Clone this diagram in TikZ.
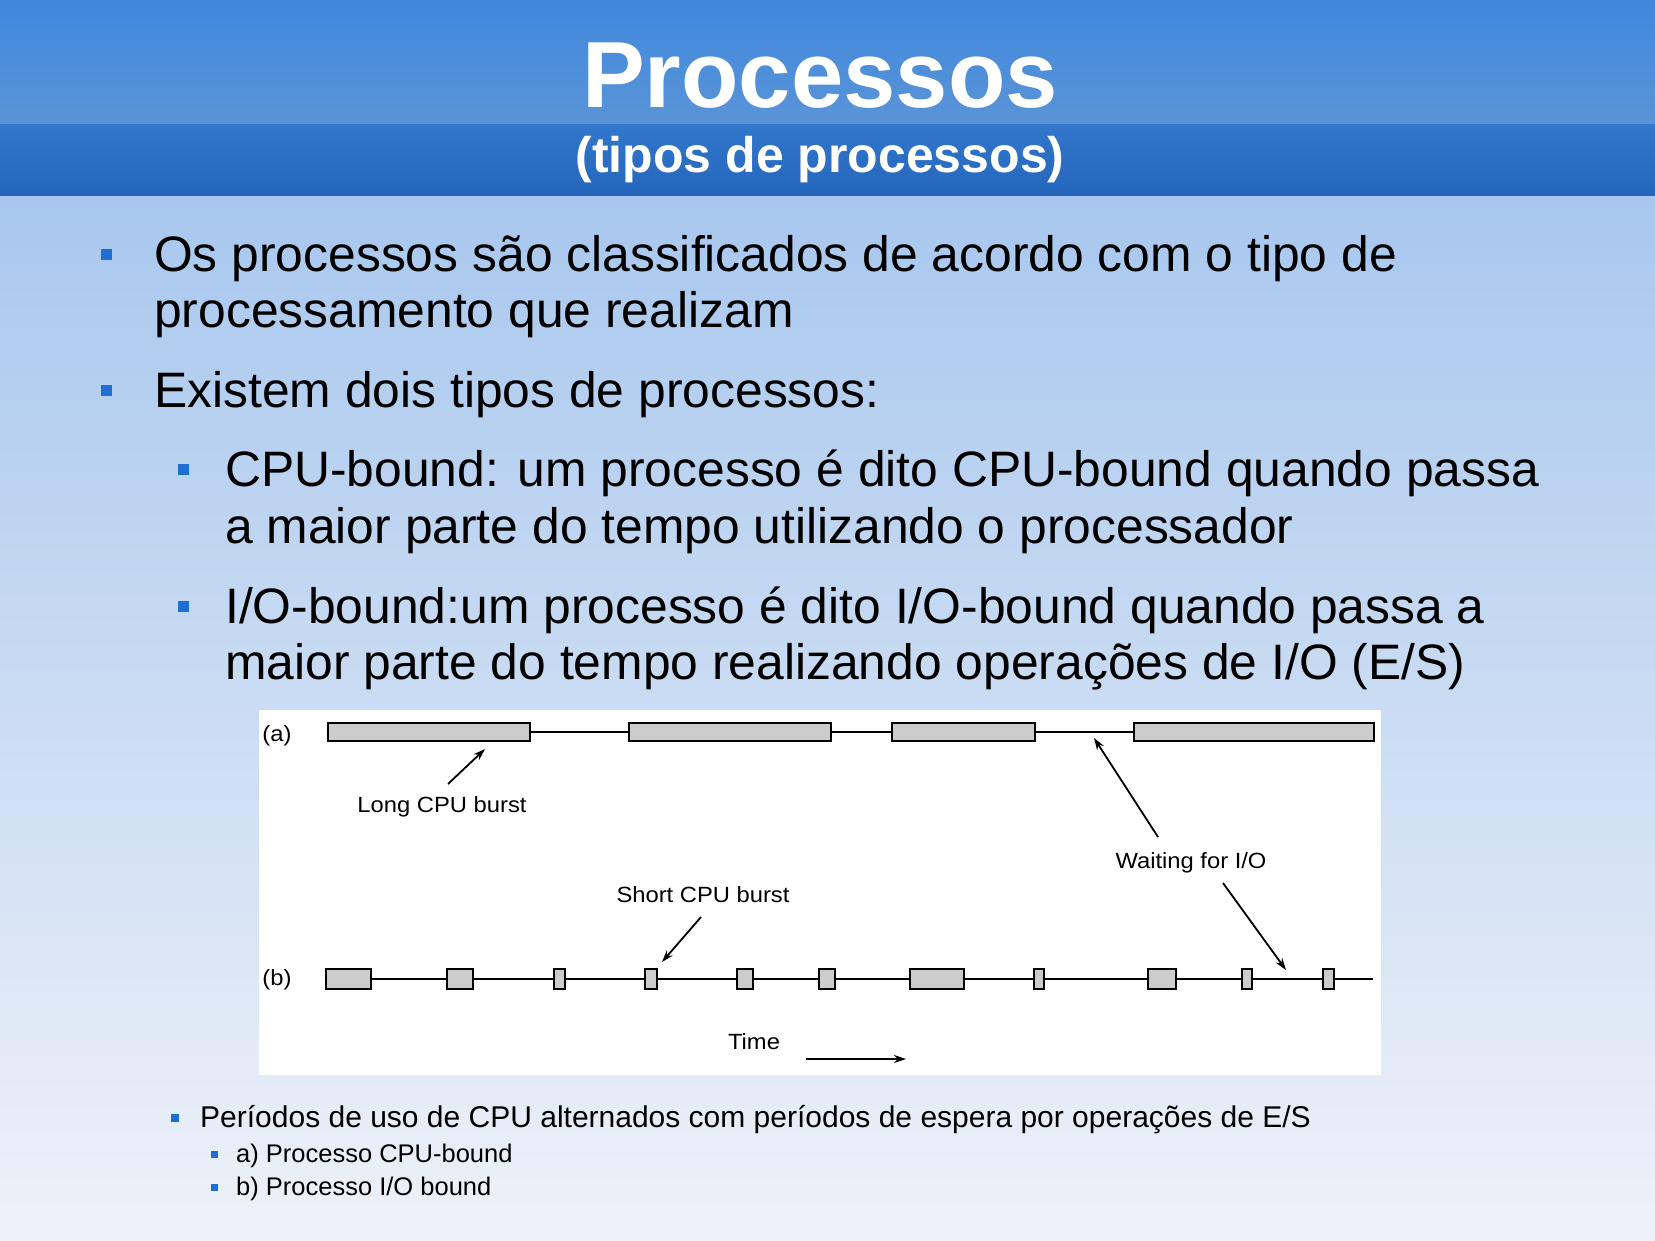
\documentclass[tikz,border=0pt]{standalone}
\usepackage{fontspec}
\setmainfont{Liberation Sans}
\usetikzlibrary{arrows.meta}
\definecolor{bul}{HTML}{1F6FD2}
\definecolor{boxg}{HTML}{CCCCCC}
\definecolor{bgtop}{HTML}{A8C7EE}
\definecolor{bgbot}{HTML}{EEF2F8}
\definecolor{hdA}{HTML}{3F88DE}
\definecolor{hdB}{HTML}{5A94D6}
\definecolor{hdC}{HTML}{3277CC}
\definecolor{hdD}{HTML}{2466BC}
\begin{document}
\begin{tikzpicture}[x=1pt,y=-1pt,
  txt/.style={anchor=base west,inner sep=0pt},
  sq/.style={fill=bul,minimum size=#1,inner sep=0pt},
  burst/.style={draw=black,line width=1.6pt,fill=boxg},
  lab/.style={inner sep=0pt,font=\fontsize{22}{26}\selectfont,xscale=1.08},
  arr/.style={line width=1.8pt,-{Stealth[length=12pt,width=8pt]}}]
\useasboundingbox (0,0) rectangle (1655,1240);
% background
\shade[top color=bgtop,bottom color=bgbot] (0,195) rectangle (1655,1240);
\shade[top color=hdA,bottom color=hdB] (0,0) rectangle (1655,124);
\shade[top color=hdC,bottom color=hdD] (0,124) rectangle (1655,195);
% title
\node[inner sep=0pt,text=white,font=\fontsize{94}{100}\selectfont\bfseries] (title) at (820,76) {Processos};
\node[inner sep=0pt,text=white,font=\fontsize{50}{56}\selectfont\bfseries] (sub) at (820,160) {(tipos de processos)};
% bullets
\begin{scope}[font=\fontsize{49.8}{56}\selectfont]
\node[sq=11pt] (b1) at (106,254) {};
\node[txt] (t1a) at (154,271) {Os processos são classificados de acordo com o tipo de};
\node[txt] (t1b) at (154,327) {processamento que realizam};
\node[sq=11pt] (b2) at (106,390) {};
\node[txt] (t2) at (154,407) {Existem dois tipos de processos:};
\node[sq=11pt] (b3) at (183,469) {};
\node[txt] (t3a) at (225,486) {CPU-bound: um processo é dito CPU-bound quando passa};
\node[txt] (t3b) at (225,543) {a maior parte do tempo utilizando o processador};
\node[sq=11pt] (b4) at (183,606) {};
\node[txt] (t4a) at (225,623) {I/O-bound:um processo é dito I/O-bound quando passa a};
\node[txt] (t4b) at (225,679) {maior parte do tempo realizando operações de I/O (E/S)};
\end{scope}
\node[sq=8pt] (b5) at (175,1118) {};
\node[txt,font=\fontsize{30}{34}\selectfont] (t5) at (200,1127) {Períodos de uso de CPU alternados com períodos de espera por operações de E/S};
\node[sq=7pt] (b6) at (214,1154) {};
\node[txt,font=\fontsize{25.5}{30}\selectfont] (t6) at (236,1162) {a) Processo CPU-bound};
\node[sq=7pt] (b7) at (214,1187) {};
\node[txt,font=\fontsize{25.5}{30}\selectfont] (t7) at (236,1195) {b) Processo I/O bound};
% diagram
\fill[white] (259,710) rectangle (1381,1075);
\draw[line width=1.6pt] (530,732) -- (629,732) (831,732) -- (892,732) (1035,732) -- (1134,732);
\foreach \a/\b in {328/530,629/831,892/1035,1134/1374}
  \filldraw[burst] (\a,723) rectangle (\b,741);
\draw[line width=1.6pt] (371,979) -- (1373,979);
\foreach \a/\b in {326/371,447/473,554/565,645/657,737/753,819/835,910/964,1034/1044,1148/1176,1242/1252,1323/1334}
  \filldraw[burst] (\a,969) rectangle (\b,989);
\node[lab] (la) at (277,736) {(a)};
\node[lab] (lb) at (277,980) {(b)};
\node[lab] (long) at (442,807) {Long CPU burst};
\node[lab] (wait) at (1191,863) {Waiting for I/O};
\node[lab] (short) at (703,895) {Short CPU burst};
\node[lab] (time) at (754,1042) {Time};
\coordinate (l1) at (448,784); \coordinate (l2) at (485,749);
\coordinate (w1) at (1158,837); \coordinate (w2) at (1094,738);
\coordinate (w3) at (1223,883); \coordinate (w4) at (1286,970);
\coordinate (s1) at (701,917); \coordinate (s2) at (662,962);
\coordinate (r1) at (806,1059); \coordinate (r2) at (906,1059);
\draw[arr] (l1) -- (l2);
\draw[arr] (w1) -- (w2);
\draw[arr] (w3) -- (w4);
\draw[arr] (s1) -- (s2);
\draw[arr] (r1) -- (r2);
\end{tikzpicture}
\end{document}
